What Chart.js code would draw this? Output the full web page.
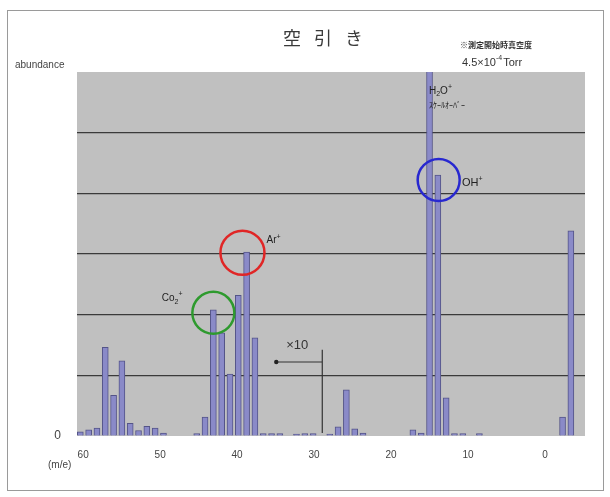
<!DOCTYPE html>
<html>
<head>
<meta charset="utf-8">
<script src="https://cdn.jsdelivr.net/npm/chart.js@4/dist/chart.umd.min.js"></script>
<style>
  html, body { margin: 0; padding: 0; background: #ffffff; }
  #wrap { width: 610px; height: 497px; position: relative; }
</style>
</head>
<body>
<div id="wrap"><canvas id="c" width="610" height="497"></canvas></div>
<script>
// Mass numbers (m/e) of the measured peaks
const massNumbers = [60, 59, 58, 57, 56, 55, 54, 53, 52, 51, 50,
  46, 45, 44, 43, 42, 41, 40, 39, 38, 37, 36, 34, 33, 32,
  30, 29, 28, 27, 26, 20, 19, 18, 17, 16, 15, 14, 12, 2, 1];
// Peak heights (one grid step = 1); values left of m/e 30 are shown ×10
const abundance = [0.07, 0.10, 0.13, 1.46, 0.67, 1.24, 0.21, 0.09, 0.16, 0.13, 0.05,
  0.04, 0.31, 2.08, 1.70, 1.02, 2.32, 3.03, 1.62, 0.04, 0.04, 0.04, 0.03, 0.04, 0.04,
  0.03, 0.15, 0.76, 0.12, 0.05, 0.10, 0.05, 8.00, 4.30, 0.63, 0.04, 0.04, 0.04, 0.31, 3.38];
// Axis tick labels along the m/e axis
const massTickLabels = [60, 50, 40, 30, 20, 10, 0];

const jp = '"Noto Sans CJK JP", "Liberation Sans", sans-serif';
const sans = '"Liberation Sans", Arial, sans-serif';

const decorations = {
  id: 'decorations',
  beforeDraw(chart) {
    const { ctx, chartArea: a } = chart;
    ctx.save();
    // outer frame
    ctx.strokeStyle = '#9a9a9a';
    ctx.lineWidth = 1;
    ctx.strokeRect(7.5, 10.5, 596, 480);
    // plot background
    ctx.fillStyle = '#c0c0c0';
    ctx.fillRect(a.left, a.top, a.right - a.left, a.bottom - a.top);
    ctx.restore();
  },
  afterDraw(chart) {
    const { ctx } = chart;
    const xs = chart.scales.x, ys = chart.scales.y;
    const px = v => xs.getPixelForValue(v);
    const py = v => ys.getPixelForValue(v);
    ctx.save();

    // title
    ctx.fillStyle = '#3a3a3a';
    ctx.textAlign = 'center';
    ctx.textBaseline = 'middle';
    ctx.font = '18px ' + jp;
    ['空', '引', 'き'].forEach((ch, i) => ctx.fillText(ch, 292 + i * 31, 38));

    // axis captions
    ctx.font = '10px ' + sans;
    ctx.textAlign = 'left';
    ctx.fillStyle = '#444';
    ctx.fillText('abundance', 15, 65);
    ctx.fillText('(m/e)', 48, 465);

    // pressure note
    ctx.font = 'bold 8px ' + jp;
    ctx.fillStyle = '#333';
    ctx.fillText('※測定開始時真空度', 460, 45);
    ctx.font = '11px ' + sans;
    let tx = 462;
    ctx.fillText('4.5×10', tx, 63);
    tx += ctx.measureText('4.5×10').width;
    ctx.font = '7px ' + sans;
    ctx.fillText('-4', tx, 58);
    tx += ctx.measureText('-4').width + 1;
    ctx.font = '11px ' + sans;
    ctx.fillText('Torr', tx, 63);

    // helper: ion label with subscript / superscript
    function ion(parts, x, y, size) {
      let cx = x;
      parts.forEach(p => {
        const s = p.t === 'n' ? size : Math.round(size * 0.65);
        const dy = p.t === 'sub' ? size * 0.35 : (p.t === 'sup' ? -size * 0.4 : 0);
        ctx.font = s + 'px ' + sans;
        ctx.fillText(p.s, cx, y + dy);
        cx += ctx.measureText(p.s).width;
      });
    }
    ctx.fillStyle = '#222';
    ctx.textAlign = 'left';
    ion([{t:'n', s:'H'}, {t:'sub', s:'2'}, {t:'n', s:'O'}, {t:'sup', s:'+'}], 429, 91, 10);
    ctx.font = '8px ' + jp;
    ctx.fillText('ｽｹｰﾙｵｰﾊﾞｰ', 429, 105);
    ion([{t:'n', s:'OH'}, {t:'sup', s:'+'}], px(14.1), py(4.17), 11);
    ion([{t:'n', s:'Ar'}, {t:'sup', s:'+'}], px(37.6), py(3.22), 10);
    ion([{t:'n', s:'Co'}, {t:'sub', s:'2'}, {t:'sup', s:'+'}], px(50.2), py(2.27), 10);

    // highlight circles
    function ring(mz, v, r, color) {
      ctx.beginPath();
      ctx.arc(px(mz), py(v), r, 0, Math.PI * 2);
      ctx.strokeStyle = color;
      ctx.lineWidth = 2.5;
      ctx.stroke();
    }
    ring(40.5, 3.02, 22, '#e02626');
    ring(44.0, 2.03, 21, '#2e9a2e');
    ring(16.9, 4.22, 21, '#2828d0');

    // ×10 marker
    const bx = px(30.9);
    ctx.strokeStyle = '#333';
    ctx.lineWidth = 1.2;
    ctx.beginPath();
    ctx.moveTo(bx, py(1.42));
    ctx.lineTo(bx, py(0.05));
    ctx.moveTo(bx, py(1.22));
    ctx.lineTo(bx - 46, py(1.22));
    ctx.stroke();
    ctx.beginPath();
    ctx.fillStyle = '#222';
    ctx.arc(bx - 46, py(1.22), 2.2, 0, Math.PI * 2);
    ctx.fill();
    ctx.font = '13px ' + sans;
    ctx.fillStyle = '#333';
    ctx.fillText('×10', bx - 36, py(1.5));
    ctx.restore();
  }
};

new Chart(document.getElementById('c'), {
  type: 'bar',
  data: {
    datasets: [{
      data: massNumbers.map((m, i) => ({ x: m, y: abundance[i] })),
      backgroundColor: '#8a8ac8',
      borderColor: '#545488',
      borderWidth: 1,
      barThickness: 6
    }]
  },
  options: {
    responsive: false,
    animation: false,
    layout: { padding: { top: 72, right: 25, left: 0, bottom: 0 } },
    plugins: { legend: { display: false }, tooltip: { enabled: false } },
    scales: {
      x: {
        type: 'linear',
        reverse: true,
        min: -0.7,
        max: 60.4,
        display: false,
        offset: false
      },
      mass: {
        type: 'linear',
        axis: 'x',
        position: 'bottom',
        reverse: true,
        min: -5.2,
        max: 60.8,
        offset: false,
        grid: { display: false, offset: false },
        border: { display: false },
        afterBuildTicks(scale) {
          scale.ticks = massTickLabels.map(v => ({ value: v }));
        },
        afterFit(scale) { scale.height = 61; },
        ticks: {
          padding: 5,
          color: '#444',
          font: { size: 10, family: sans },
          callback: v => String(v)
        }
      },
      y: {
        min: 0,
        max: 6,
        afterFit(scale) { scale.width = 77; },
        border: { display: false },
        grid: {
          drawTicks: false,
          color: ctx => (ctx.tick && ctx.tick.value > 0 && ctx.tick.value < 6) ? '#3a3a3a' : 'rgba(0,0,0,0)',
          lineWidth: 1.2
        },
        ticks: {
          stepSize: 1,
          padding: 16,
          color: '#444',
          font: { size: 12, family: sans },
          callback: v => v === 0 ? '0' : ''
        }
      }
    }
  },
  plugins: [decorations]
});
</script>
</body>
</html>
